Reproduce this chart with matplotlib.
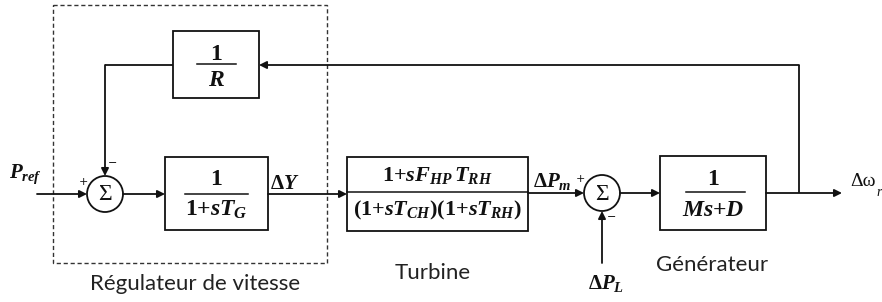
import matplotlib
matplotlib.use("Agg")
import matplotlib.pyplot as plt
from matplotlib.patches import Rectangle, Circle

plt.rcParams['mathtext.fontset'] = 'custom'
plt.rcParams['mathtext.rm'] = 'Liberation Serif:bold'
plt.rcParams['mathtext.it'] = 'Liberation Serif:italic:bold'
plt.rcParams['mathtext.bf'] = 'Liberation Serif:bold'

# block transfer functions (numerator, denominator)
block_names = ['R', 'G', 'turbine', 'gen']
block_num = [r'$1$', r'$1$', r'$1{+}sF_{HP}\,T_{RH}$', r'$1$']
block_den = [r'$R$', r'$1{+}sT_G$', r'$(1{+}sT_{CH})(1{+}sT_{RH})$', r'$Ms{+}D$']
# signal labels
signal_labels = [r'$P_{ref}$', r'$\Delta Y$', r'$\Delta P_m$', r'$\Delta P_L$']
group_labels = ['Régulateur de vitesse', 'Turbine', 'Générateur']

fig = plt.figure(figsize=(8.82, 3.02), dpi=100)
ax = fig.add_axes([0, 0, 1, 1])
ax.set_xlim(0, 882)
ax.set_ylim(302, 0)
ax.axis('off')

lw = 1.3
col = '#111111'

# box geometry: x0, x1, y0, y1, frac line y, frac line x0, x1, num y, den y, fontsize
boxes = {
    'R': (173, 259, 31, 98, 64, 197, 236, 53, 79, 17),
    'G': (165, 268, 157, 230, 194, 185, 248, 178, 209, 17),
    'turbine': (347, 528, 157, 231, 192, 347, 528, 176, 210, 16),
    'gen': (660, 766, 156, 230, 192, 686, 745, 178, 209, 17),
}

for name, num, den in zip(block_names, block_num, block_den):
    x0, x1, y0, y1, fy, fx0, fx1, ny, dy, fs = boxes[name]
    ax.add_patch(Rectangle((x0, y0), x1 - x0, y1 - y0, fill=False, lw=lw, ec=col))
    ax.plot([fx0, fx1], [fy, fy], color=col, lw=1.1)
    xc = (x0 + x1) / 2
    ax.text(xc, ny, num, ha='center', va='center', fontsize=fs, color=col)
    ax.text(xc, dy, den, ha='center', va='center', fontsize=fs, color=col)

# summing junctions
sums = [(105, 194), (602, 193)]
rs = 18
for cx, cy in sums:
    ax.add_patch(Circle((cx, cy), rs, fill=False, lw=lw, ec=col))
    ax.text(cx, cy + 1, 'Σ', ha='center', va='center', fontsize=17,
            family='Liberation Serif', color=col)


def arrow(pts):
    xs = [p[0] for p in pts]
    ys = [p[1] for p in pts]
    ax.plot(xs[:-1], ys[:-1], color=col, lw=lw, solid_capstyle='butt')
    ax.annotate('', xy=pts[-1], xytext=pts[-2],
                arrowprops=dict(arrowstyle='-|>', color=col, lw=lw,
                                mutation_scale=11, shrinkA=0, shrinkB=0))


arrow([(37, 194), (87, 194)])
arrow([(173, 65), (105, 65), (105, 176)])
arrow([(123, 194), (165, 194)])
arrow([(268, 194), (347, 194)])
arrow([(528, 193), (584, 193)])
arrow([(620, 193), (660, 193)])
arrow([(766, 193), (842, 193)])
arrow([(799, 193), (799, 65), (259, 65)])
arrow([(602, 263), (602, 211)])

# dashed regulator frame
ax.add_patch(Rectangle((53, 5), 274, 258, fill=False, lw=1.0, ec='#333333',
                       ls=(0, (3, 2))))

# signal labels
ax.text(26, 174, signal_labels[0], ha='center', va='center', fontsize=15, color=col)
ax.text(285, 183, signal_labels[1], ha='center', va='center', fontsize=15, color=col)
ax.text(552, 182, signal_labels[2], ha='center', va='center', fontsize=15, color=col)
ax.text(606, 283, signal_labels[3], ha='center', va='center', fontsize=15, color=col)
ax.text(850, 182, 'Δω', ha='left', va='center', fontsize=14,
        family='Liberation Serif', color=col)
ax.text(876, 192, 'r', ha='left', va='center', fontsize=10, style='italic',
        family='Liberation Serif', color=col)

# signs
ax.text(83, 182, '+', ha='center', va='center', fontsize=8, color=col)
ax.text(113, 163, '−', ha='center', va='center', fontsize=8, color=col)
ax.text(580, 179, '+', ha='center', va='center', fontsize=8, color=col)
ax.text(612, 217, '−', ha='center', va='center', fontsize=8, color=col)

# group captions
ax.text(195, 284, group_labels[0], ha='center', va='center', fontsize=16,
        family='Lato', color='#222222')
ax.text(433, 273, group_labels[1], ha='center', va='center', fontsize=16,
        family='Lato', color='#222222')
ax.text(712, 265, group_labels[2], ha='center', va='center', fontsize=16,
        family='Lato', color='#222222')

fig.savefig('out.png', dpi=100)
